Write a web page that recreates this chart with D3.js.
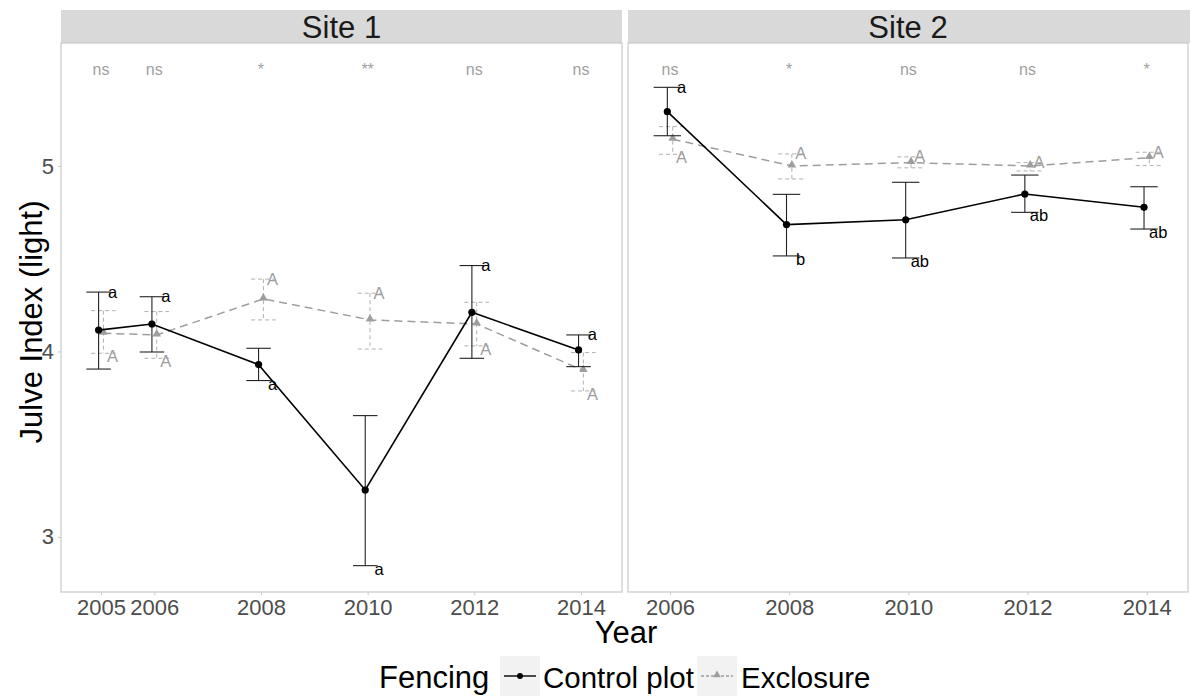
<!DOCTYPE html>
<html><head><meta charset="utf-8">
<script src="https://cdn.jsdelivr.net/npm/d3@7/dist/d3.min.js"></script>
<style>body{margin:0;background:#fff}svg{display:block;font-family:"Liberation Sans",Arial,Helvetica,sans-serif}</style>
</head><body><svg id="c" width="1192" height="698"></svg>
<script>
// ---- data ----
const sites = ["Site 1", "Site 2"];
const years1 = [2005, 2006, 2008, 2010, 2012, 2014];
const ctrl1Mean = [4.115, 4.148, 3.929, 3.253, 4.211, 4.008];
const ctrl1Hi   = [4.320, 4.295, 4.017, 3.654, 4.463, 4.089];
const ctrl1Lo   = [3.905, 3.997, 3.843, 2.845, 3.963, 3.918];
const ctrl1Let  = ["a", "a", "a", "a", "a", "a"];
const ctrl1LetAt = ["hi", "hi", "lo", "lo", "hi", "hi"];
const excl1Mean = [4.098, 4.089, 4.283, 4.170, 4.148, 3.897];
const excl1Hi   = [4.220, 4.215, 4.390, 4.314, 4.265, 3.994];
const excl1Lo   = [3.990, 3.963, 4.170, 4.013, 4.030, 3.787];
const excl1Let  = ["A", "A", "A", "A", "A", "A"];
const excl1LetAt = ["lo", "lo", "hi", "hi", "lo", "lo"];
const sig1 = ["ns", "ns", "*", "**", "ns", "ns"];

const years2 = [2006, 2008, 2010, 2012, 2014];
const ctrl2Mean = [5.293, 4.684, 4.710, 4.849, 4.777];
const ctrl2Hi   = [5.424, 4.847, 4.912, 4.951, 4.888];
const ctrl2Lo   = [5.163, 4.515, 4.504, 4.750, 4.660];
const ctrl2Let  = ["a", "b", "ab", "ab", "ab"];
const ctrl2LetAt = ["hi", "lo", "lo", "lo", "lo"];
const excl2Mean = [5.144, 5.000, 5.018, 5.000, 5.045];
const excl2Hi   = [5.212, 5.065, 5.049, 5.018, 5.074];
const excl2Lo   = [5.063, 4.930, 4.990, 4.973, 5.002];
const excl2Let  = ["A", "A", "A", "A", "A"];
const excl2LetAt = ["lo", "hi", "hi", "hi", "hi"];
const sig2 = ["ns", "*", "ns", "ns", "*"];

const yTicks = [3, 4, 5];
const legendTitle = "Fencing";
const groups = ["Control plot", "Exclosure"];

// ---- layout ----
const svg = d3.select("#c");
const pTop = 43, pBottom = 592, stripTop = 10;
const y = d3.scaleLinear().domain([2.703, 5.663]).range([pBottom, pTop]);
const sigLevel = 5.517;

const panels = [
  {name: sites[0], years: years1, x: d3.scaleLinear().domain([2004.25, 2014.77]).range([61, 622]),
   ctrl: {m: ctrl1Mean, hi: ctrl1Hi, lo: ctrl1Lo, let: ctrl1Let, at: ctrl1LetAt},
   excl: {m: excl1Mean, hi: excl1Hi, lo: excl1Lo, let: excl1Let, at: excl1LetAt}, sig: sig1, stripR: 622},
  {name: sites[1], years: years2, x: d3.scaleLinear().domain([2005.295, 2014.693]).range([628, 1188]),
   ctrl: {m: ctrl2Mean, hi: ctrl2Hi, lo: ctrl2Lo, let: ctrl2Let, at: ctrl2LetAt},
   excl: {m: excl2Mean, hi: excl2Hi, lo: excl2Lo, let: excl2Let, at: excl2LetAt}, sig: sig2, stripR: 1190}
];

const dodge = 0.045, whisk = 0.23;
const ctrlCol = "#000", exclCol = "#9e9e9e";
const tri = d3.symbol().type(d3.symbolTriangle).size(32);
const FONT = "Liberation Sans, Arial, sans-serif";

panels.forEach((p, pi) => {
  const x = p.x;
  const [x0, x1] = x.range();
  // strip
  svg.append("rect").attr("x", x0).attr("y", stripTop).attr("width", p.stripR - x0).attr("height", pTop - stripTop).attr("fill", "#d9d9d9");
  svg.append("text").attr("x", (x0 + x1) / 2).attr("y", 38).attr("text-anchor", "middle")
    .attr("font-size", 31).attr("fill", "#1a1a1a").text(p.name);
  // panel border
  svg.append("rect").attr("x", x0).attr("y", pTop).attr("width", x1 - x0).attr("height", pBottom - pTop)
    .attr("fill", "none").attr("stroke", "#c8c8c8").attr("stroke-width", 1.2);
  // x axis
  const gx = svg.append("g").attr("transform", `translate(0,${pBottom})`)
    .call(d3.axisBottom(x).tickValues(p.years).tickFormat(d3.format("d")).tickSize(3).tickPadding(4));
  gx.select(".domain").remove();
  gx.selectAll("line").attr("stroke", "#c8c8c8");
  gx.selectAll("text").attr("font-size", 22).attr("fill", "#4d4d4d").attr("font-family", FONT);
  // y axis for first panel
  if (pi === 0) {
    const gy = svg.append("g").attr("transform", `translate(${x0},0)`)
      .call(d3.axisLeft(y).tickValues(yTicks).tickFormat(d3.format("d")).tickSize(3).tickPadding(4));
    gy.select(".domain").remove();
    gy.selectAll("line").attr("stroke", "#c8c8c8");
    gy.selectAll("text").attr("font-size", 22).attr("fill", "#4d4d4d").attr("font-family", FONT);
  }
  // significance labels
  p.years.forEach((yr, i) => {
    svg.append("text").attr("x", x(yr)).attr("y", y(sigLevel) + 5)
      .attr("text-anchor", "middle").attr("font-size", 16)
      .attr("fill", "#a0a0a0").text(p.sig[i]);
  });

  const series = [
    {d: p.excl, off: dodge, col: exclCol, ebCol: "#b0b0b0", dash: "8,5", ebDash: "4,3", lw: 1.5, ebw: 1, type: "tri", letCol: "#9e9e9e"},
    {d: p.ctrl, off: -dodge, col: ctrlCol, ebCol: "#222", dash: null, ebDash: null, lw: 1.6, ebw: 1.1, type: "circ", letCol: "#000"}
  ];
  series.forEach(s => {
    const pts = p.years.map((yr, i) => ({yr, m: s.d.m[i], hi: s.d.hi[i], lo: s.d.lo[i], l: s.d.let[i], at: s.d.at[i]}));
    const g = svg.append("g");
    // error bars
    pts.forEach(d => {
      const xc = x(d.yr + s.off);
      const eb = g.append("g").attr("stroke", s.ebCol).attr("stroke-width", s.ebw)
        .attr("stroke-dasharray", s.ebDash);
      eb.append("line").attr("x1", xc).attr("x2", xc).attr("y1", y(d.hi)).attr("y2", y(d.lo));
      eb.append("line").attr("x1", x(d.yr + s.off - whisk)).attr("x2", x(d.yr + s.off + whisk)).attr("y1", y(d.hi)).attr("y2", y(d.hi));
      eb.append("line").attr("x1", x(d.yr + s.off - whisk)).attr("x2", x(d.yr + s.off + whisk)).attr("y1", y(d.lo)).attr("y2", y(d.lo));
    });
    // line
    g.append("path").datum(pts).attr("fill", "none").attr("stroke", s.col).attr("stroke-width", s.lw)
      .attr("stroke-dasharray", s.dash)
      .attr("d", d3.line().x(d => x(d.yr + s.off)).y(d => y(d.m)));
    // points
    pts.forEach(d => {
      if (s.type === "circ") {
        g.append("circle").attr("cx", x(d.yr + s.off)).attr("cy", y(d.m)).attr("r", 3.6).attr("fill", "#000");
      } else {
        g.append("path").attr("d", tri).attr("fill", exclCol)
          .attr("transform", `translate(${x(d.yr + s.off)},${y(d.m) - 1})`);
      }
    });
    // letters
    pts.forEach(d => {
      g.append("text").attr("x", x(d.yr) + 11.5).attr("y", d.at === "hi" ? y(d.hi) + 5.5 : y(d.lo) + 9)
        .attr("text-anchor", "middle").attr("font-size", 16.5).attr("fill", s.letCol).text(d.l);
    });
  });
});

// axis titles
svg.append("text").attr("x", 626).attr("y", 643).attr("text-anchor", "middle").attr("font-size", 31).attr("fill", "#000").text("Year");
svg.append("text").attr("transform", "translate(42,322) rotate(-90)").attr("text-anchor", "middle")
  .attr("font-size", 31).attr("fill", "#000").text("Julve Index (light)");

// legend
const lg = svg.append("g");
lg.append("text").attr("x", 379).attr("y", 688).attr("font-size", 31).attr("fill", "#000").text(legendTitle);
const keys = [
  {x: 500, tx: 543, col: "#000", dash: null, type: "circ"},
  {x: 697, tx: 741, col: exclCol, dash: "3,2", type: "tri"}
];
keys.forEach((k, i) => {
  lg.append("rect").attr("x", k.x).attr("y", 656).attr("width", 40).attr("height", 40).attr("fill", "#f2f2f2");
  lg.append("line").attr("x1", k.x + 4).attr("x2", k.x + 36).attr("y1", 676).attr("y2", 676)
    .attr("stroke", k.col).attr("stroke-width", 1.4).attr("stroke-dasharray", k.dash);
  if (k.type === "circ") lg.append("circle").attr("cx", k.x + 20).attr("cy", 676).attr("r", 3).attr("fill", "#000");
  else lg.append("path").attr("d", d3.symbol().type(d3.symbolTriangle).size(26)).attr("fill", exclCol)
    .attr("transform", `translate(${k.x + 20},675)`);
  lg.append("text").attr("x", k.tx).attr("y", 688).attr("font-size", 29.5).attr("fill", "#000").text(groups[i]);
});
</script></body></html>
